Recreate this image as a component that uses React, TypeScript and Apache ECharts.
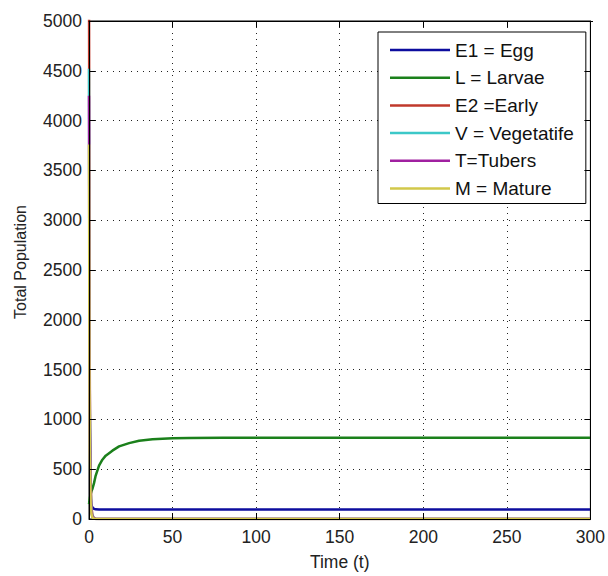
import React, { useEffect, useRef } from "react";
import * as echarts from "echarts";

const times = [0, 0.25, 0.5, 1, 1.5, 2, 3, 4, 6, 8, 10, 14, 18, 24, 30, 38, 50, 60, 80, 100, 150, 200, 250, 300];
const eggValues = [180, 170, 162, 150, 135, 118, 102, 97, 95, 95, 95, 95, 95, 95, 95, 95, 96, 96, 96, 96, 96, 96, 96, 96];
const larvaeValues = [150, 180, 210, 250, 280, 300, 360, 436, 536, 595, 636, 686, 729, 762, 785, 801, 811, 814, 815, 815, 815, 815, 815, 815];
const earlyValues = [5600, 2600, 1300, 350, 120, 40, 8, 2, 0, 0, 0, 0, 0, 0, 0, 0, 0, 0, 0, 0, 0, 0, 0, 0];
const vegetatifeValues = [4520, 2300, 1100, 280, 90, 30, 5, 1, 0, 0, 0, 0, 0, 0, 0, 0, 0, 0, 0, 0, 0, 0, 0, 0];
const tubersValues = [4250, 1900, 900, 220, 70, 22, 4, 1, 0, 0, 0, 0, 0, 0, 0, 0, 0, 0, 0, 0, 0, 0, 0, 0];
const matureValues = [3760, 1600, 700, 160, 50, 15, 3, 1, 0, 0, 0, 0, 0, 0, 0, 0, 0, 0, 0, 0, 0, 0, 0, 0];

const seriesNames = ["E1 = Egg", "L = Larvae", "E2 =Early", "V = Vegetatife", "T=Tubers", "M = Mature"];
const seriesColors = ["#0d0d9e", "#1b801b", "#c0392b", "#3cc8c8", "#a020a0", "#d2c84a"];
const seriesValues = [eggValues, larvaeValues, earlyValues, vegetatifeValues, tubersValues, matureValues];

const xTickInterval = 50;
const xMin = 0;
const xMax = 300;
const yTickInterval = 500;
const yMin = 0;
const yMax = 5000;

const FONT = "'Liberation Sans', Arial, sans-serif";

export default function App() {
  const ref = useRef<HTMLDivElement>(null);
  useEffect(() => {
    if (!ref.current) return;
    const chart = echarts.init(ref.current, undefined, { renderer: "svg" });
    const overlayAxisX = (position: "top" | "bottom") => ({
      type: "value",
      position,
      min: xMin,
      max: xMax,
      interval: xTickInterval,
      z: 5,
      axisLine: { show: true, onZero: false, lineStyle: { color: "#000", width: 1 } },
      axisTick: { show: true, inside: true, length: 6, lineStyle: { color: "#000" } },
      axisLabel: { show: false },
      splitLine: { show: false },
    });
    const overlayAxisY = (position: "left" | "right") => ({
      type: "value",
      position,
      min: yMin,
      max: yMax,
      interval: yTickInterval,
      z: 5,
      axisLine: { show: true, onZero: false, lineStyle: { color: "#000", width: 1 } },
      axisTick: { show: true, inside: true, length: 6, lineStyle: { color: "#000" } },
      axisLabel: { show: false },
      splitLine: { show: false },
    });
    chart.setOption({
      animation: false,
      backgroundColor: "#ffffff",
      textStyle: { fontFamily: FONT },
      grid: {
        left: 89,
        right: 15,
        top: 21,
        bottom: 54,
        containLabel: false,
        show: true,
        borderColor: "#000",
        borderWidth: 1,
        backgroundColor: "transparent",
      },
      legend: {
        orient: "vertical",
        left: 378,
        top: 32,
        padding: [8, 12, 5, 12],
        backgroundColor: "#ffffff",
        borderColor: "#000000",
        borderWidth: 1,
        borderRadius: 0,
        itemWidth: 60,
        itemHeight: 2.5,
        itemGap: 7.7,
        icon: "rect",
        textStyle: { fontFamily: FONT, fontSize: 19, color: "#111", lineHeight: 20 },
        data: seriesNames,
      },
      xAxis: [
        {
          type: "value",
          position: "bottom",
          min: xMin,
          max: xMax,
          interval: xTickInterval,
          name: "Time (t)",
          nameLocation: "middle",
          nameGap: 34,
          nameTextStyle: { fontFamily: FONT, fontSize: 17.5, color: "#222" },
          axisLine: { show: false, onZero: false },
          axisTick: { show: false },
          axisLabel: { fontFamily: FONT, fontSize: 17.5, color: "#222", margin: 9, formatter: (v: number) => String(v) },
          splitLine: { show: true, lineStyle: { color: "#222", type: [1, 5], width: 1 } },
        },
        overlayAxisX("top"),
        overlayAxisX("bottom"),
      ],
      yAxis: [
        {
          type: "value",
          position: "left",
          min: yMin,
          max: yMax,
          interval: yTickInterval,
          axisLine: { show: false, onZero: false },
          axisTick: { show: false },
          axisLabel: { fontFamily: FONT, fontSize: 17.5, color: "#222", margin: 7, formatter: (v: number) => String(v) },
          splitLine: { show: true, lineStyle: { color: "#222", type: [1, 5], width: 1 } },
        },
        overlayAxisY("right"),
        overlayAxisY("left"),
      ],
      graphic: [
        {
          type: "line",
          z: 100,
          shape: { x1: 89, y1: 21.5, x2: 593, y2: 21.5 },
          style: { stroke: "#000", lineWidth: 1 },
        },
        {
          type: "text",
          x: 20,
          y: 262,
          rotation: Math.PI / 2,
          style: {
            text: "Total Population",
            fontFamily: FONT,
            fontSize: 16,
            fill: "#222",
            align: "center",
            verticalAlign: "middle",
          },
        },
      ],
      series: seriesNames.map((name, i) => ({
        name,
        type: "line",
        xAxisIndex: 0,
        yAxisIndex: 0,
        showSymbol: false,
        symbol: "none",
        clip: true,
        color: seriesColors[i],
        lineStyle: { color: seriesColors[i], width: 2.5 },
        data: times.map((t, j) => [t, seriesValues[i][j]]),
      })),
    });
    return () => chart.dispose();
  }, []);
  return (
    <div
      ref={ref}
      style={{ position: "fixed", left: 0, top: 0, width: 608, height: 576, background: "#fff" }}
    />
  );
}
